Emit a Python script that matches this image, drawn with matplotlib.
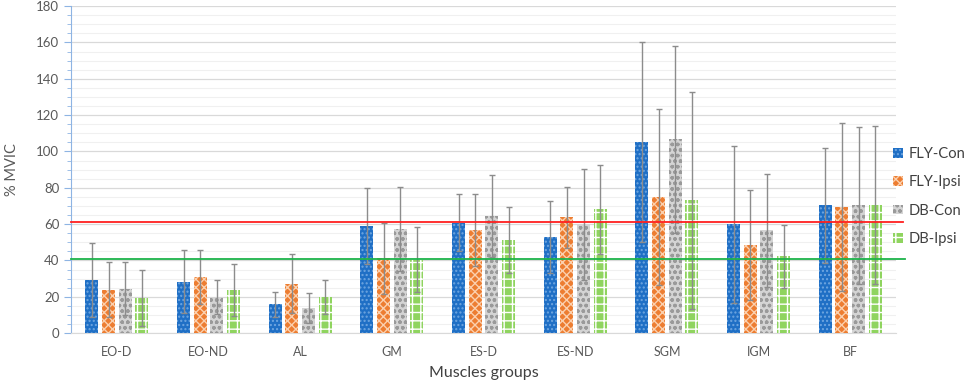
import numpy as np
import matplotlib
matplotlib.use('Agg')
import matplotlib.pyplot as plt
from matplotlib.ticker import MultipleLocator

plt.rcParams['font.family'] = ['Lato', 'DejaVu Sans']
plt.rcParams['hatch.linewidth'] = 1.0

groups = ['EO-D', 'EO-ND', 'AL', 'GM', 'ES-D', 'ES-ND', 'SGM', 'IGM', 'BF']
series = ['FLY-Con', 'FLY-Ipsi', 'DB-Con', 'DB-Ipsi']

fly_con = [29.2, 28.3, 16.0, 58.9, 60.7, 52.7, 105.1, 59.8, 70.4]
fly_con_sd = [20.6, 17.4, 6.9, 20.9, 15.6, 19.8, 54.9, 43.1, 31.6]
fly_ipsi = [24.0, 30.8, 27.3, 41.1, 56.7, 63.7, 75.0, 48.4, 69.5]
fly_ipsi_sd = [15.0, 14.9, 16.2, 19.6, 19.6, 16.7, 48.3, 30.1, 46.1]
db_con = [24.4, 20.0, 13.9, 57.4, 64.4, 59.8, 106.6, 56.5, 70.4]
db_con_sd = [14.5, 9.5, 8.3, 23.1, 22.4, 30.3, 51.7, 31.0, 43.1]
db_ipsi = [19.4, 23.9, 19.8, 40.5, 51.2, 68.2, 73.0, 42.2, 70.4]
db_ipsi_sd = [15.6, 14.4, 9.2, 17.8, 18.0, 24.6, 59.5, 17.1, 43.5]

red_line = 61
green_line = 41

means = [fly_con, fly_ipsi, db_con, db_ipsi]
sds = [fly_con_sd, fly_ipsi_sd, db_con_sd, db_ipsi_sd]
faces = ['#1f6fc5', '#ed7d31', '#d4d4d4', '#8fd45f']
hatch_cols = ['#6fa6e0', '#fbd0ae', '#9a9a9a', '#ffffff']
hatches = ['....', 'xxxx', 'ooo', '++']

fig = plt.figure(figsize=(9.69, 3.82), dpi=100)
ax = fig.add_axes([0.0733, 0.128, 0.8515, 0.856])

x = np.arange(len(groups))
w = 0.142
pitch = 0.182
for i in range(4):
    pos = x + (i - 1.5) * pitch
    ax.bar(pos, means[i], w, color=faces[i], edgecolor=hatch_cols[i],
           hatch=hatches[i], linewidth=0, label=series[i], zorder=3)
    ax.errorbar(pos, means[i], yerr=sds[i], fmt='none', ecolor='#8c8c8c',
                elinewidth=1, capsize=2.5, capthick=1, zorder=4)

ax.axhline(red_line, xmin=0, xmax=1.008, color='#ff2020', lw=1.3, clip_on=False, zorder=5)
ax.axhline(green_line, xmin=0, xmax=1.011, color='#1db34a', lw=1.3, clip_on=False, zorder=5)

ax.set_xlim(-0.5, len(groups) - 0.5)
ax.set_ylim(0, 180)
ax.yaxis.set_major_locator(MultipleLocator(20))
ax.yaxis.set_minor_locator(MultipleLocator(5))
ax.grid(which='major', axis='y', color='#d9d9d9', lw=0.9, zorder=0)
ax.grid(which='minor', axis='y', color='#f0f0f0', lw=0.8, zorder=0)
ax.set_xticks(x)
ax.set_xticklabels(groups)
ax.tick_params(axis='x', length=0, pad=9, labelsize=9, labelcolor='#595959')
ax.tick_params(axis='y', which='major', length=5, color='#8eb4e3', labelsize=9.5, labelcolor='#595959', direction='out')
ax.tick_params(axis='y', which='minor', length=3, color='#8eb4e3', direction='out')

for s in ['top', 'right']:
    ax.spines[s].set_visible(False)
ax.spines['left'].set_color('#8eb4e3')
ax.spines['bottom'].set_color('#d9d9d9')

ax.set_ylabel('% MVIC', fontsize=10.5, color='#595959', labelpad=12)
ax.set_xlabel('Muscles groups', fontsize=11.5, color='#404040', labelpad=6)

fig.legend(loc='upper left', bbox_to_anchor=(0.922, 0.615), frameon=False,
           borderaxespad=0, borderpad=0,
           fontsize=10.6, handlelength=0.65, handleheight=0.65, handletextpad=0.4,
           labelspacing=0.97, labelcolor='#404040')

fig.savefig('out.png', dpi=100)
